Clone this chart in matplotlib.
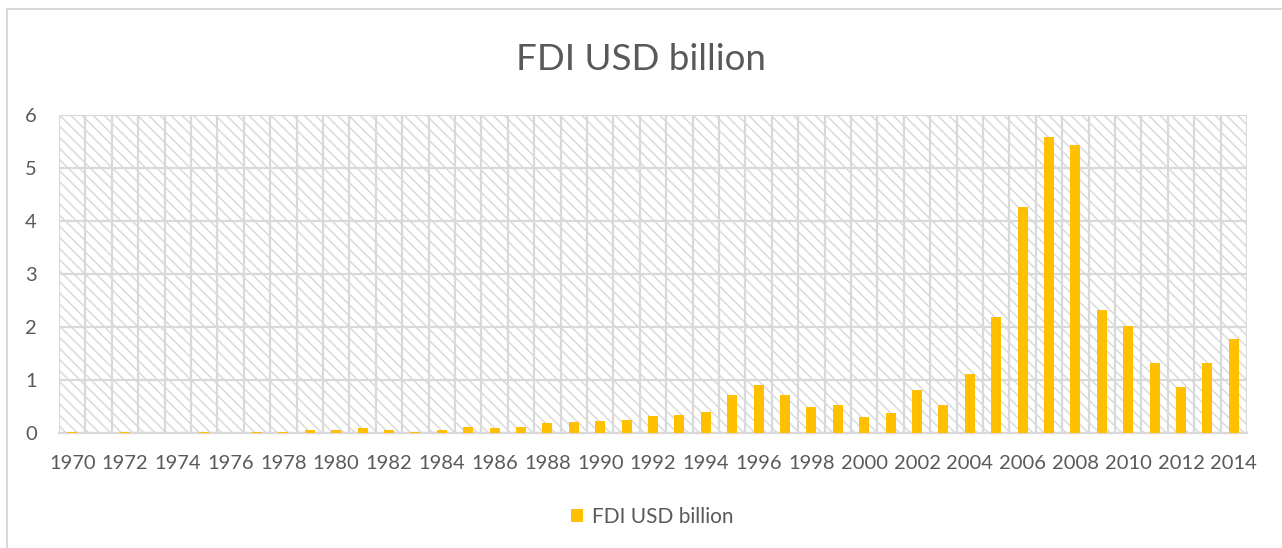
import matplotlib
matplotlib.use("Agg")
import matplotlib.pyplot as plt
from matplotlib.patches import Rectangle

plt.rcParams['font.family'] = ['Lato', 'DejaVu Sans']

years = list(range(1970, 2015))
fdi = [0.01, 0.0, 0.01, 0.0, 0.0, 0.02, 0.0, 0.01, 0.02, 0.05,
       0.05, 0.10, 0.05, 0.02, 0.05, 0.12, 0.09, 0.11, 0.18, 0.20,
       0.23, 0.25, 0.33, 0.34, 0.40, 0.71, 0.91, 0.71, 0.50, 0.52,
       0.30, 0.37, 0.81, 0.52, 1.11, 2.18, 4.26, 5.58, 5.44, 2.33,
       2.01, 1.32, 0.86, 1.32, 1.77]
series_name = "FDI USD billion"
yticks = [0, 1, 2, 3, 4, 5, 6]

W, H = 1282, 548
fig = plt.figure(figsize=(W / 100, H / 100), dpi=100)
fig.patch.set_facecolor('white')

# outer chart border
fig.add_artist(Rectangle((7 / W, -0.05), 1.1, (H - 9) / H + 0.05,
                         transform=fig.transFigure, fill=False,
                         edgecolor='#d9d9d9', linewidth=1.5, zorder=0))

ax = fig.add_axes([59 / W, 1 - 433 / H, (1247 - 59) / W, (433 - 115) / H])
ax.set_facecolor('white')

# hatched plot background
plt.rcParams['hatch.linewidth'] = 1.1
ax.add_patch(Rectangle((0, 0), 1, 1, transform=ax.transAxes,
                       facecolor='white', edgecolor='#dadada',
                       hatch='\\\\\\', linewidth=0, zorder=0))

x = list(range(len(years)))
ax.bar(x, fdi, width=0.38, color='#FFC000', zorder=3, label=series_name)

ax.set_xlim(-0.5, len(years) - 0.5)
ax.set_ylim(0, 6)
ax.set_yticks(yticks)
ax.set_yticklabels([str(v) for v in yticks])
ax.set_xticks(x[::2])
ax.set_xticklabels([str(y) for y in years[::2]])
ax.set_xticks([i + 0.5 for i in range(-1, len(years))], minor=True)

ax.grid(axis='y', which='major', color='#d9d9d9', linewidth=1.6, zorder=1)
ax.grid(axis='x', which='minor', color='#d9d9d9', linewidth=1.6, zorder=1)
ax.set_axisbelow(True)

for s in ('top', 'right', 'left'):
    ax.spines[s].set_visible(False)
ax.spines['bottom'].set_color('#d9d9d9')
ax.spines['bottom'].set_linewidth(1.6)

ax.tick_params(axis='both', which='both', length=0, labelsize=14.5,
               labelcolor='#595959')
ax.tick_params(axis='y', pad=16)
ax.tick_params(axis='x', pad=16)

fig.text(0.5, 1 - 59 / H, "FDI USD billion", ha='center', va='center',
         fontsize=26.5, color='#595959')

fig.legend(loc='center', bbox_to_anchor=(0.5 + 11 / W, 1 - 517 / H),
           frameon=False, fontsize=15, labelcolor='#595959',
           handlelength=0.6, handleheight=0.6, handletextpad=0.4)

fig.savefig('out.png', dpi=100, facecolor='white')
